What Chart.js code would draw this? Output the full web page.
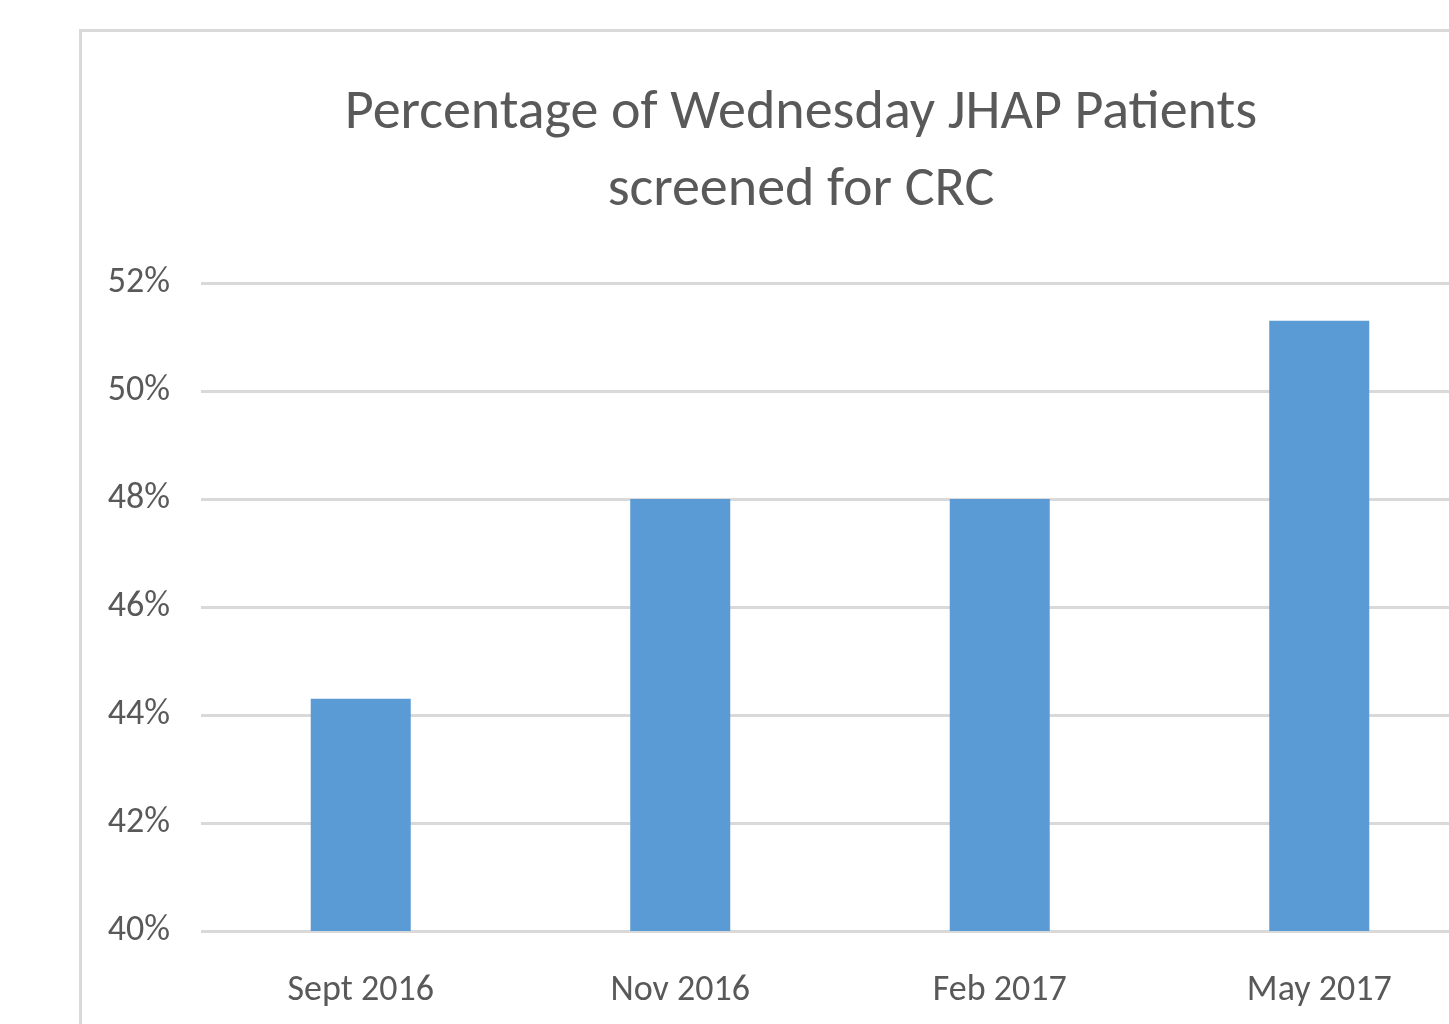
<!DOCTYPE html>
<html>
<head>
<meta charset="utf-8">
<script src="https://cdn.jsdelivr.net/npm/chart.js@4.4.1/dist/chart.umd.min.js"></script>
<style>
  html, body { margin: 0; padding: 0; background: #fff; overflow: hidden; width: 1449px; height: 1024px; }
  #frame {
    position: absolute; left: 79px; top: 29px;
    width: 1438px; height: 1100px;
    border: 3px solid #d9d9d9;
  }
  #wrap { position: absolute; left: 0; top: 0; width: 1438px; height: 1000px; }
</style>
</head>
<body>
<div id="frame">
  <div id="wrap"><canvas id="grafika"></canvas></div>
</div>
<script>
// chart data
const kategoriak = ['Sept 2016', 'Nov 2016', 'Feb 2017', 'May 2017'];
const ehunekoak = [44.3, 48.0, 48.0, 51.3];
const ardatzMin = 40;
const ardatzMax = 52;
const ardatzPausoa = 2;
const izenburua = ['Percentage of Wednesday JHAP Patients', 'screened for CRC'];

const testuKolorea = '#595959';
const letraMota = 'Carlito, Lato, "Open Sans", sans-serif';

const ctx = document.getElementById('grafika').getContext('2d');

new Chart(ctx, {
    type: 'bar',
    data: {
        labels: kategoriak,
        datasets: [{
            data: ehunekoak,
            backgroundColor: '#5b9bd5',
            borderWidth: 0,
            categoryPercentage: 1,
            barPercentage: 0.313
        }]
    },
    options: {
        responsive: true,
        maintainAspectRatio: false,
        animation: false,
        layout: { padding: 0 },
        plugins: {
            legend: { display: false },
            tooltip: { enabled: false },
            title: {
                display: true,
                text: izenburua,
                color: testuKolorea,
                font: { family: letraMota, size: 56, weight: 'normal', lineHeight: 77 / 56 },
                padding: { top: 43, bottom: 54 }
            }
        },
        scales: {
            x: {
                grid: { display: false, drawTicks: false },
                border: { display: false },
                ticks: {
                    color: testuKolorea,
                    font: { family: letraMota, size: 36 },
                    padding: 38
                },
                afterFit: function(scale) { scale.height = 101; }
            },
            y: {
                min: ardatzMin,
                max: ardatzMax,
                grid: { color: '#d9d9d9', lineWidth: 3, drawTicks: false },
                border: { display: false },
                ticks: {
                    stepSize: ardatzPausoa,
                    color: testuKolorea,
                    font: { family: letraMota, size: 36 },
                    padding: 31,
                    callback: function(v) { return v + '%'; }
                },
                afterFit: function(scale) { scale.width = 119; }
            },
            // hutsik dagoen eskuineko ardatza, tartea gordetzeko
            eskuin: {
                position: 'right',
                min: ardatzMin,
                max: ardatzMax,
                grid: { display: false, drawTicks: false },
                border: { display: false },
                ticks: { display: false },
                afterFit: function(scale) { scale.width = 41; }
            }
        }
    }
});
</script>
</body>
</html>
